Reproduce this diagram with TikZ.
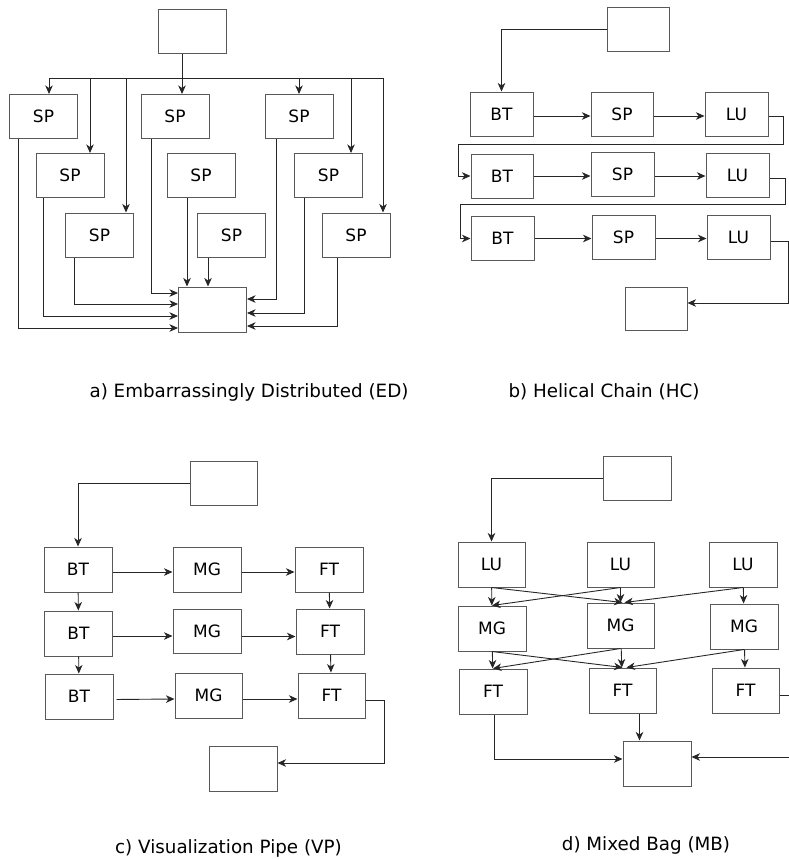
\documentclass[tikz,border=0pt]{standalone}
\usepackage{fontspec}
\setmainfont{DejaVu Sans}
\usetikzlibrary{arrows.meta}
\usetikzlibrary{calc}

\begin{document}
\begin{tikzpicture}[x=1pt, y=-1pt, black!85, line width=0.9pt,
  blk/.style={draw=black!65, line width=1pt, text=black, inner sep=0pt, minimum width=68pt, minimum height=44pt, font=\fontsize{17}{17}\selectfont},
  captxt/.style={text=black, font=\fontsize{18.3}{18.3}\selectfont}]
\def\l{8.5pt}
\def\w{7.5pt}
\clip (0,0) rectangle (789,860);
%% a) ED
\node [blk, name=a0] at (192.5,31.5) {};
\node [blk, name=sa1] at (43.5,116.5) {SP};
\node [blk, name=sa2] at (175,116.5) {SP};
\node [blk, name=sa3] at (299,116.5) {SP};
\node [blk, name=sa4] at (70,175.5) {SP};
\node [blk, name=sa5] at (201,175.5) {SP};
\node [blk, name=sa6] at (328.5,175.5) {SP};
\node [blk, name=sa7] at (99.5,235) {SP};
\node [blk, name=sa8] at (231.5,235) {SP};
\node [blk, name=sa9] at (356,235) {SP};
\node [blk, minimum height=45pt, name=ao] at (212.5,309.5) {};
\coordinate (abus) at ($(a0.south)+(-10.5,0)$);
\coordinate (bus1) at (49,78);
\coordinate (bus2) at (90,78);
\coordinate (bus3) at (126,78);
\coordinate (bus4) at (299,78);
\coordinate (bus5) at (351,78);
\coordinate (bus6) at (383,78);
\draw (bus1) -- (bus6);
\draw [-{Stealth[length=\l, width=\w, inset=2.5pt]}](abus) -- (abus |- sa2.north);
\draw [-{Stealth[length=\l, width=\w, inset=2.5pt]}](bus1) -- (bus1 |- sa1.north);
\draw [-{Stealth[length=\l, width=\w, inset=2.5pt]}](bus2) -- (bus2 |- sa4.north);
\draw [-{Stealth[length=\l, width=\w, inset=2.5pt]}](bus3) -- (bus3 |- sa7.north);
\draw [-{Stealth[length=\l, width=\w, inset=2.5pt]}](bus4) -- (bus4 |- sa3.north);
\draw [-{Stealth[length=\l, width=\w, inset=2.5pt]}](bus5) -- (bus5 |- sa6.north);
\draw [-{Stealth[length=\l, width=\w, inset=2.5pt]}](bus6) -- (bus6 |- sa9.north);
\draw [-{Stealth[length=\l, width=\w, inset=2.5pt]}]($(sa1.south)+(-25.5,0)$) |- ($(ao.west)+(0,18.5)$);
\draw [-{Stealth[length=\l, width=\w, inset=2.5pt]}]($(sa4.south)+(-27,0)$) |- ($(ao.west)+(0,6.5)$);
\draw [-{Stealth[length=\l, width=\w, inset=2.5pt]}]($(sa7.south)+(-25.5,0)$) |- ($(ao.west)+(0,-5.5)$);
\draw [-{Stealth[length=\l, width=\w, inset=2.5pt]}]($(sa2.south)+(-24,0)$) |- ($(ao.west)+(0,-16.5)$);
\coordinate (a5o) at ($(sa5.south)+(-14,0)$);
\coordinate (a8o) at ($(sa8.south)+(-23.5,0)$);
\draw [-{Stealth[length=\l, width=\w, inset=2.5pt]}](a5o) -- (a5o |- ao.north);
\draw [-{Stealth[length=\l, width=\w, inset=2.5pt]}](a8o) -- (a8o |- ao.north);
\draw [-{Stealth[length=\l, width=\w, inset=2.5pt]}]($(sa3.south)+(-23,0)$) |- ($(ao.east)+(0,-10.5)$);
\draw [-{Stealth[length=\l, width=\w, inset=2.5pt]}]($(sa6.south)+(-24.5,0)$) |- ($(ao.east)+(0,3.5)$);
\draw [-{Stealth[length=\l, width=\w, inset=2.5pt]}]($(sa9.south)+(-19,0)$) |- ($(ao.east)+(0,16.5)$);
\node [captxt, name=capa] at (249,392) {a) Embarrassingly Distributed (ED)};
%% b) HC
\node [blk, minimum width=62pt, name=b0] at (638,29) {};
\node [blk, minimum width=63pt, name=bt1] at (501.5,114) {BT};
\node [blk, minimum width=62pt, name=sp1] at (622,114) {SP};
\node [blk, minimum width=63pt, name=lu1] at (736.5,114) {LU};
\node [blk, minimum width=62pt, name=bt2] at (502,176) {BT};
\node [blk, minimum width=63pt, name=sp2] at (622.5,174) {SP};
\node [blk, minimum width=63pt, name=lu2] at (737.5,175) {LU};
\node [blk, minimum width=63pt, name=bt3] at (502.5,238.5) {BT};
\node [blk, minimum width=63pt, name=sp3] at (623.5,237.5) {SP};
\node [blk, minimum width=63pt, name=lu3] at (738.5,237.5) {LU};
\node [blk, minimum width=62pt, minimum height=43pt, name=bo] at (656,308.5) {};
\draw [-{Stealth[length=\l, width=\w, inset=2.5pt]}](b0.west) -| (bt1.north);
\draw [-{Stealth[length=\l, width=\w, inset=2.5pt]}]($(bt1.east)+(0,2)$) -- ($(sp1.west)+(0,2)$);
\draw [-{Stealth[length=\l, width=\w, inset=2.5pt]}]($(sp1.east)+(0,2)$) -- ($(lu1.west)+(0,2)$);
\draw [-{Stealth[length=\l, width=\w, inset=2.5pt]}](bt2) -- (bt2 -| sp2.west);
\draw [-{Stealth[length=\l, width=\w, inset=2.5pt]}](sp2.east |- bt2) -- (lu2.west |- bt2);
\draw [-{Stealth[length=\l, width=\w, inset=2.5pt]}](bt3) -- (bt3 -| sp3.west);
\draw [-{Stealth[length=\l, width=\w, inset=2.5pt]}](sp3.east |- bt3) -- (lu3.west |- bt3);
\draw [-{Stealth[length=\l, width=\w, inset=2.5pt]}]($(lu1.east)+(0,2)$) -| (783,144) -| ($(bt2.west)+(-12,0)$) -- (bt2.west);
\draw [-{Stealth[length=\l, width=\w, inset=2.5pt]}]($(lu2.east)+(0,3)$) -| (785,204) -| ($(bt3.west)+(-10,0)$) -- (bt3.west);
\draw [-{Stealth[length=\l, width=\w, inset=2.5pt]}]($(lu3.east)+(0,4)$) -| (788,303) -- (bo.east |- 788,303);
\node [captxt, name=capb] at (604,392) {b) Helical Chain (HC)};
%% c) VP
\node [blk, minimum width=67pt, name=c0] at (223.5,483) {};
\node [blk, minimum height=45pt, name=cbt1] at (78,569.5) {BT};
\node [blk, minimum height=45pt, name=cmg1] at (207,569.5) {MG};
\node [blk, minimum height=45pt, name=cft1] at (329,569.5) {FT};
\node [blk, minimum height=45pt, name=cbt2] at (78.5,633.5) {BT};
\node [blk, name=cmg2] at (207,631) {MG};
\node [blk, minimum height=45pt, name=cft2] at (330,631.5) {FT};
\node [blk, minimum height=45pt, name=cbt3] at (79,696.5) {BT};
\node [blk, minimum width=67pt, minimum height=45pt, name=cmg3] at (208.5,695.5) {MG};
\node [blk, minimum width=67pt, minimum height=45pt, name=cft3] at (331.5,695.5) {FT};
\node [blk, minimum height=45pt, name=co] at (243,768.5) {};
\draw [-{Stealth[length=\l, width=\w, inset=2.5pt]}](c0.west) -| (cbt1.north);
\draw [-{Stealth[length=\l, width=\w, inset=2.5pt]}]($(cbt1.east)+(0,2.5)$) -- ($(cmg1.west)+(0,2.5)$);
\draw [-{Stealth[length=\l, width=\w, inset=2.5pt]}]($(cmg1.east)+(0,2.5)$) -- ($(cft1.west)+(0,2.5)$);
\draw [-{Stealth[length=\l, width=\w, inset=2.5pt]}]($(cbt2.east)+(0,2.5)$) -- ($(cmg2.west)+(0,5)$);
\draw [-{Stealth[length=\l, width=\w, inset=2.5pt]}]($(cmg2.east)+(0,5.5)$) -- ($(cft2.west)+(0,5)$);
\draw [-{Stealth[length=\l, width=\w, inset=2.5pt]}, shorten <=3pt]($(cbt3.east)+(0,3)$) -- ($(cmg3.west)+(0,3.5)$);
\draw [-{Stealth[length=\l, width=\w, inset=2.5pt]}]($(cmg3.east)+(0,3.5)$) -- ($(cft3.west)+(0,3.5)$);
\draw [-{Stealth[length=\l, width=\w, inset=2.5pt]}](cbt1) -- (cbt2);
\draw [-{Stealth[length=\l, width=\w, inset=2.5pt]}](cbt2) -- (cbt3);
\draw [-{Stealth[length=\l, width=\w, inset=2.5pt]}](cft1) -- (cft2);
\draw [-{Stealth[length=\l, width=\w, inset=2.5pt]}](cft2) -- (cft3);
\draw [-{Stealth[length=\l, width=\w, inset=2.5pt]}]($(cft3.east)+(0,4.5)$) -| ($(co.east)+(107,-5.5)$) -- ($(co.east)+(0,-5.5)$);
\node [captxt, name=capc] at (228.5,848) {c) Visualization Pipe (VP)};
%% d) MB
\node [blk, name=d0] at (637,478) {};
\node [blk, minimum width=67pt, minimum height=45pt, name=dlu1] at (491.5,564.5) {LU};
\node [blk, minimum width=67pt, minimum height=45pt, name=dlu2] at (620.5,564.5) {LU};
\node [blk, minimum height=45pt, name=dlu3] at (743,564.5) {LU};
\node [blk, minimum height=45pt, name=dmg1] at (492,628.5) {MG};
\node [blk, minimum width=67pt, minimum height=45pt, name=dmg2] at (620.5,625.5) {MG};
\node [blk, minimum height=45pt, name=dmg3] at (744,626.5) {MG};
\node [blk, minimum height=45pt, name=dft1] at (493,691.5) {FT};
\node [blk, minimum width=67pt, minimum height=45pt, name=dft2] at (622.5,690.5) {FT};
\node [blk, minimum width=67pt, minimum height=45pt, name=dft3] at (745.5,690.5) {FT};
\node [blk, minimum height=45pt, name=do] at (657,763.5) {};
\draw [-{Stealth[length=\l, width=\w, inset=2.5pt]}](d0.west) -| (dlu1.north);
\draw [-{Stealth[length=\l, width=\w, inset=2.5pt]}](dlu1) -- (dmg1);
\draw [-{Stealth[length=\l, width=\w, inset=2.5pt]}](dlu2) -- (dmg2);
\draw [-{Stealth[length=\l, width=\w, inset=2.5pt]}](dlu3) -- (dmg3);
\draw [-{Stealth[length=\l, width=\w, inset=2.5pt]}](dlu1.south) -- ($(dmg2.north)+(2,0)$);
\draw [-{Stealth[length=\l, width=\w, inset=2.5pt]}](dlu2.south) -- (dmg1.north);
\draw [-{Stealth[length=\l, width=\w, inset=2.5pt]}](dlu3.south) -- ($(dmg2.north)+(4,0)$);
\draw [-{Stealth[length=\l, width=\w, inset=2.5pt]}](dmg1) -- (dft1);
\draw [-{Stealth[length=\l, width=\w, inset=2.5pt]}](dmg2) -- (dft2);
\draw [-{Stealth[length=\l, width=\w, inset=2.5pt]}](dmg3) -- (dft3);
\draw [-{Stealth[length=\l, width=\w, inset=2.5pt]}](dmg1.south) -- (dft2.north);
\draw [-{Stealth[length=\l, width=\w, inset=2.5pt]}](dmg2.south) -- (dft1.north);
\draw [-{Stealth[length=\l, width=\w, inset=2.5pt]}](dmg3.south) -- ($(dft2.north)+(4,0)$);
\coordinate (d2o) at ($(dft2.south)+(17,0)$);
\draw [-{Stealth[length=\l, width=\w, inset=2.5pt]}]($(dft1.south)+(1,0)$) |- ($(do.west)+(0,-4.5)$);
\draw [-{Stealth[length=\l, width=\w, inset=2.5pt]}](d2o) -- (d2o |- do.north);
\draw [-{Stealth[length=\l, width=\w, inset=2.5pt]}]($(dft3.east)+(0,4.5)$) -| ($(do.east)+(104,-6.5)$) -- ($(do.east)+(0,-6.5)$);
\node [captxt, name=capd] at (646,845) {d) Mixed Bag (MB)};
\end{tikzpicture}
\end{document}
